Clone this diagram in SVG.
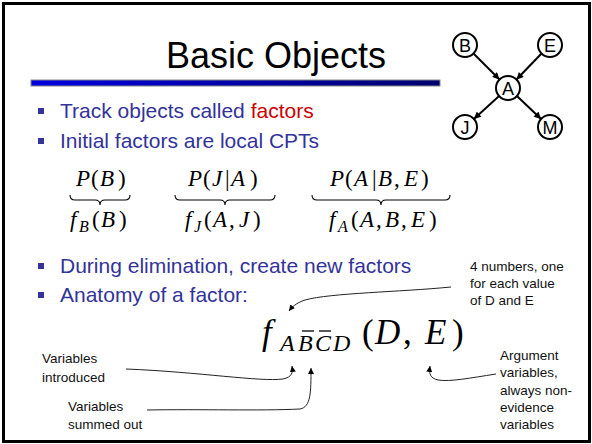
<svg xmlns="http://www.w3.org/2000/svg" width="592" height="444" viewBox="0 0 592 444">
  <defs>
    <linearGradient id="barFill" x1="0" y1="0" x2="1" y2="0">
      <stop offset="0" stop-color="#0000e0"/>
      <stop offset="1" stop-color="#000070"/>
    </linearGradient>
    <marker id="netHead" viewBox="0 0 10 10" refX="10" refY="5" markerUnits="userSpaceOnUse" markerWidth="8" markerHeight="7" orient="auto">
      <path d="M0,0 L10,5 L0,10 z" fill="#000"/>
    </marker>
    <marker id="noteHead" viewBox="0 0 10 10" refX="10" refY="5" markerUnits="userSpaceOnUse" markerWidth="6" markerHeight="6" orient="auto">
      <path d="M0,0 L10,5 L0,10 z" fill="#000"/>
    </marker>
  </defs>
  <style>
    .title { font-family: "Liberation Sans", Arial, sans-serif; font-size: 36px; fill: #000; }
    .bullet { font-family: "Liberation Sans", Arial, sans-serif; font-size: 21px; fill: #333399; }
    .hot { fill: #cc0000; }
    .sq { fill: #333399; }
    .note { font-family: "Liberation Sans", Arial, sans-serif; font-size: 13.5px; fill: #111; }
    .math { font-family: "Liberation Serif", "Times New Roman", serif; font-size: 23px; fill: #000; }
    .sub { font-size: 16px; }
    .big { font-size: 35px; }
    .bigsub { font-size: 24px; }
    .i { font-style: italic; }
    .brace { fill: none; stroke: #000; stroke-width: 1.1; }
    .node circle { fill: #fff; stroke: #000; stroke-width: 2; }
    .node text { font-family: "Liberation Sans", Arial, sans-serif; font-size: 18px; text-anchor: middle; fill: #000; }
    .edge { stroke: #000; stroke-width: 2; marker-end: url(#netHead); }
    .pointer { fill: none; stroke: #222; stroke-width: 1; marker-end: url(#noteHead); }
  </style>

  <!-- slide frame -->
  <rect x="0" y="0" width="592" height="444" fill="#fff"/>
  <rect x="3.5" y="3.5" width="586" height="438" fill="none" stroke="#000" stroke-width="3"/>

  <!-- heading and rule -->
  <text class="title" x="276" y="68" text-anchor="middle">Basic Objects</text>
  <rect x="31" y="80" width="409" height="6" fill="url(#barFill)" stroke="#888" stroke-width="1"/>

  <!-- Bayes net edges and annotation pointers -->
  <g id="connectors">
    <line class="edge" x1="473.5" y1="53.5" x2="499.5" y2="79.5"/>
    <line class="edge" x1="541.5" y1="53.5" x2="516.5" y2="79.5"/>
    <line class="edge" x1="499.1" y1="96.1" x2="473.9" y2="118.9"/>
    <line class="edge" x1="516.9" y1="96.1" x2="541.1" y2="118.9"/>
    <path class="pointer" d="M451,287 C400,292 330,293 305,300 C296,303 292,307 289,311"/>
    <path class="pointer" d="M126,369 C200,372 260,382 283,379 C292,377 293,373 292,366"/>
    <path class="pointer" d="M147,410 C200,409 260,411 300,409 C311,407 311,392 311,368"/>
    <path class="pointer" d="M496,374 C470,378 450,382 438,380 C430,378 429,374 430,366"/>
  </g>
  <g id="node-B" class="node"><circle cx="465" cy="45" r="12"/><text x="465" y="51.5">B</text></g>
  <g id="node-E" class="node"><circle cx="550" cy="45" r="12"/><text x="550" y="51.5">E</text></g>
  <g id="node-A" class="node"><circle cx="508" cy="88" r="12"/><text x="508" y="94.5">A</text></g>
  <g id="node-J" class="node"><circle cx="465" cy="127" r="12"/><text x="465" y="133.5">J</text></g>
  <g id="node-M" class="node"><circle cx="550" cy="127" r="12"/><text x="550" y="133.5">M</text></g>

  <!-- bullets -->
  <rect class="sq" x="38" y="108" width="6" height="6"/>
  <text class="bullet" x="60" y="118">Track objects called <tspan class="hot">factors</tspan></text>
  <rect class="sq" x="38" y="138" width="6" height="6"/>
  <text class="bullet" x="60" y="148">Initial factors are local CPTs</text>
  <rect class="sq" x="38" y="263" width="6" height="6"/>
  <text class="bullet" x="60" y="273">During elimination, create new factors</text>
  <rect class="sq" x="38" y="292" width="6" height="6"/>
  <text class="bullet" x="60" y="302">Anatomy of a factor:</text>

  <!-- CPTs -->
  <text class="math" y="186"><tspan class="i" x="76">P</tspan><tspan x="91">(</tspan><tspan class="i" x="100">B</tspan><tspan x="118">)</tspan></text>
  <text class="math" y="186"><tspan class="i" x="188">P</tspan><tspan x="203">(</tspan><tspan class="i" x="212">J</tspan><tspan x="225">|</tspan><tspan class="i" x="231">A</tspan><tspan x="250">)</tspan></text>
  <text class="math" y="186"><tspan class="i" x="330">P</tspan><tspan x="345">(</tspan><tspan class="i" x="354">A</tspan><tspan x="372">|</tspan><tspan class="i" x="378">B</tspan><tspan x="394">,</tspan><tspan class="i" x="404">E</tspan><tspan x="421">)</tspan></text>

  <path class="brace" d="M70,195 Q70,200 75,200 L95,200 Q100,200 100,205 Q100,200 105,200 L125,200 Q130,200 130,195"/>
  <path class="brace" d="M175,195 Q175,200 180,200 L220,200 Q225,200 225,205 Q225,200 230,200 L270,200 Q275,200 275,195"/>
  <path class="brace" d="M312,195 Q312,200 317,200 L376,200 Q381,200 381,205 Q381,200 386,200 L445,200 Q450,200 450,195"/>

  <!-- their factors -->
  <text class="math" y="227"><tspan class="i" x="70">f</tspan><tspan class="i sub" x="79" y="232">B</tspan><tspan x="92" y="227">(</tspan><tspan class="i" x="101">B</tspan><tspan x="119">)</tspan></text>
  <text class="math" y="227"><tspan class="i" x="185">f</tspan><tspan class="i sub" x="194" y="232">J</tspan><tspan x="204" y="227">(</tspan><tspan class="i" x="213">A</tspan><tspan x="229">,</tspan><tspan class="i" x="239">J</tspan><tspan x="253">)</tspan></text>
  <text class="math" y="227"><tspan class="i" x="329">f</tspan><tspan class="i sub" x="338" y="232">A</tspan><tspan x="351" y="227">(</tspan><tspan class="i" x="360">A</tspan><tspan x="376">,</tspan><tspan class="i" x="385">B</tspan><tspan x="401">,</tspan><tspan class="i" x="411">E</tspan><tspan x="429">)</tspan></text>

  <!-- the new factor -->
  <text class="math big i" x="262" y="344">f</text>
  <text class="math bigsub i" y="351"><tspan x="280">A</tspan><tspan x="298">B</tspan><tspan x="315">C</tspan><tspan x="333">D</tspan></text>
  <line x1="302" y1="331" x2="314" y2="331" stroke="#000" stroke-width="1.3"/>
  <line x1="319" y1="331" x2="331" y2="331" stroke="#000" stroke-width="1.3"/>
  <text class="math big" y="344"><tspan x="362">(</tspan><tspan class="i" x="375">D</tspan><tspan x="403">,</tspan><tspan class="i" x="425">E</tspan><tspan x="452">)</tspan></text>

  <!-- annotations -->
  <text class="note" x="470" y="271">4 numbers, one</text>
  <text class="note" x="470" y="288">for each value</text>
  <text class="note" x="470" y="305">of D and E</text>
  <text class="note" x="42" y="363">Variables</text>
  <text class="note" x="42" y="382">introduced</text>
  <text class="note" x="68" y="411">Variables</text>
  <text class="note" x="68" y="429">summed out</text>
  <text class="note" x="500" y="360">Argument</text>
  <text class="note" x="500" y="377">variables,</text>
  <text class="note" x="500" y="395">always non-</text>
  <text class="note" x="500" y="412">evidence</text>
  <text class="note" x="500" y="429">variables</text>
</svg>
